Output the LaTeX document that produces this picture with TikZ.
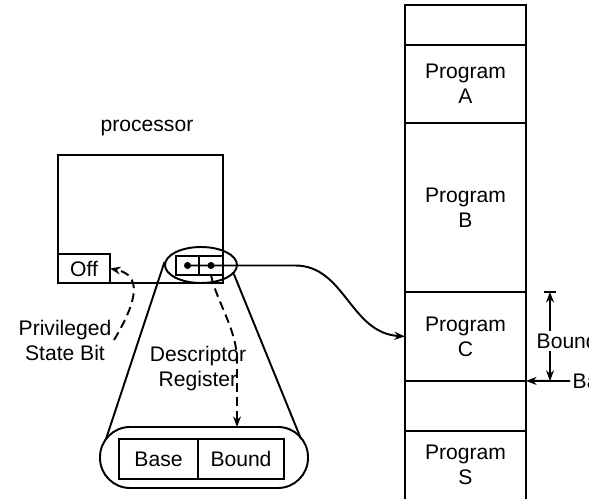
\documentclass[tikz,border=0pt]{standalone}
\usepackage{fontspec}
\setmainfont{Liberation Sans}
\usetikzlibrary{arrows.meta, positioning, shapes.geometric}

\begin{document}
\begin{tikzpicture}[
    x=0.02cm, y=-0.02cm,
    >={Stealth[length=6pt,width=4.5pt]},
    line width=1.1pt,
    font=\fontsize{12}{14.2}\selectfont,
    node distance=0pt,
    seg/.style={draw, outer sep=0pt, inner sep=0pt, minimum width=2.42cm,
                align=center},
    cell/.style={draw, outer sep=0pt, inner sep=0pt},
    lbl/.style={align=center, inner sep=1pt},
    ctrl/.style={dash pattern=on 5pt off 3pt}
  ]
    \useasboundingbox (0,0) rectangle (589,499);

    % memory
    \node[seg, minimum height=0.8cm] (memtop) at (465.5,25) {};
    \node[seg, minimum height=1.56cm, below=of memtop] (progA) {Program\\A};
    \node[seg, minimum height=3.38cm, below=of progA]  (progB) {Program\\B};
    \node[seg, minimum height=1.78cm, below=of progB]  (progC) {Program\\C};
    \node[seg, minimum height=1cm, below=of progC]     (gap)   {};
    \node[seg, draw=none, minimum height=1.36cm, below=of gap] (progS) {Program\\S};
    \draw (gap.south west) -- (progS.south west) (gap.south east) -- (progS.south east);

    % processor
    \node[cell, minimum width=3.3cm, minimum height=2.56cm] (cpu) at (140.5,219) {};
    \node[lbl] (cpulabel) at (147,128) {processor};
    \node[cell, anchor=south west, minimum width=1.04cm, minimum height=0.58cm] (offbox) at (cpu.south west) {Off};
    \node[cell, minimum width=0.47cm, minimum height=0.38cm] (regbase) at (187.5,265.5) {};
    \node[cell, minimum width=0.47cm, minimum height=0.38cm, right=of regbase] (regbound) {};
    \node[draw, ellipse, minimum width=1.44cm, minimum height=0.72cm] (lens) at (201,265) {};
    \fill (regbase.center) circle (2pt) (regbound.center) circle (2pt);
    \draw[->] (regbase.center) -- (regbound.center) -- (295,265.5)
        .. controls (345,265.5) and (350,333) .. (progC.west);

    % descriptor register, magnified
    \node[draw, rounded corners=0.6cm, outer sep=0pt, minimum width=4.16cm, minimum height=1.22cm] (descbox) at (204,457.5) {};
    \node[cell, minimum width=1.58cm, minimum height=0.8cm] (basecell) at (158.5,459) {Base};
    \node[cell, minimum width=1.72cm, minimum height=0.8cm, right=of basecell] (boundcell) {Bound};
    \coordinate (coneL) at (106,439);
    \coordinate (coneR) at (301,439);
    \draw (lens.175) -- (coneL) (lens.-15) -- (coneR);
    \coordinate (regdrop) at (237,0);
    \draw[ctrl, ->] (regbound.south) .. controls (216,300) and (237,330) .. (237,360) -- (descbox.north -| regdrop);

    \node[lbl] (desclabel) at (198,369) {Descriptor\\Register};
    \node[lbl] (privlabel) at (65,340) {Privileged\\State Bit};
    \draw[ctrl, ->] (privlabel.east) .. controls (138,300) and (142,275) .. (offbox.east);

    % bound and base of program C
    \node[lbl, anchor=west] (boundlabel) at (534,341) {Bound};
    \node[lbl, anchor=west] (baselabel) at (570,381) {Base};
    \coordinate (dimx) at (550,0);
    \draw[->] (boundlabel.north -| dimx) -- (dimx |- progC.north);
    \draw (dimx |- progC.north) ++(-6,0) -- ++(12,0);
    \draw[->] (boundlabel.south -| dimx) -- (dimx |- progC.south);
    \draw[->] (baselabel.west) -- (progC.south east);
  \end{tikzpicture}
\end{document}
